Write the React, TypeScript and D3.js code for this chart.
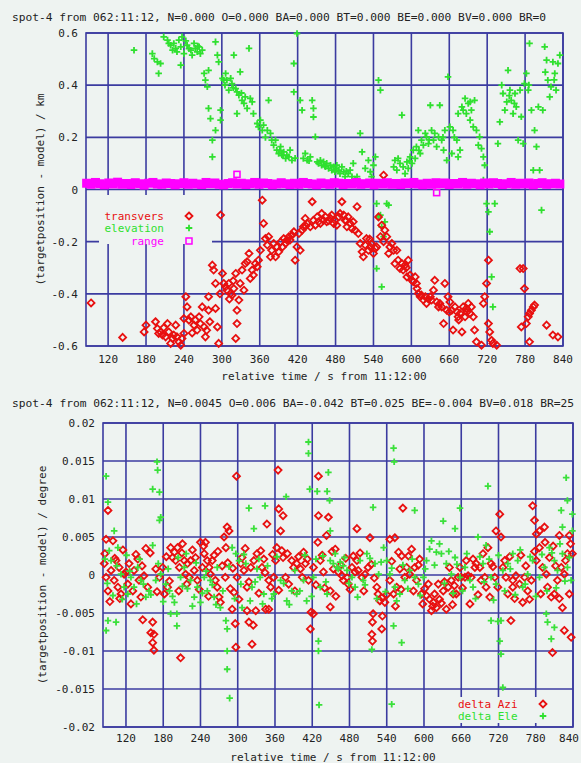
import React from "react";
import * as d3 from "d3";

// ---------- DATA ----------
const topTitle = "spot-4 from 062:11:12, N=0.000 O=0.000 BA=0.000 BT=0.000 BE=0.000 BV=0.000 BR=0";
const bottomTitle = "spot-4 from 062:11:12, N=0.0045 O=0.006 BA=-0.042 BT=0.025 BE=-0.004 BV=0.018 BR=25";
const xTicks = [120, 180, 240, 300, 360, 420, 480, 540, 600, 660, 720, 780, 840];
const topYTicks = [0.6, 0.4, 0.2, 0, -0.2, -0.4, -0.6];
const topYLabels = ["0.6", "0.4", "0.2", "0", "-0.2", "-0.4", "-0.6"];
const botYTicks = [0.02, 0.015, 0.01, 0.005, 0, -0.005, -0.01, -0.015, -0.02];
const botYLabels = ["0.02", "0.015", "0.01", "0.005", "0", "-0.005", "-0.01", "-0.015", "-0.02"];

const transvers: [number, number][] = [
[93,-0.435],[143,-0.567],[180,-0.52],[177,-0.546],[195,-0.507],[198,-0.533],[200,-0.552],[203,-0.546],[206,-0.558],[211,-0.565],[214,-0.514],[216,-0.546],[222,-0.571],[224,-0.558],[229,-0.565],[232,-0.584],[235,-0.597],[237,-0.571],[240,-0.552],[240,-0.495],[243,-0.411],[245,-0.45],[248,-0.501],[251,-0.488],[256,-0.52],[258,-0.501],[261,-0.539],[264,-0.488],[266,-0.514],[269,-0.45],[272,-0.527],[274,-0.565],[279,-0.411],[279,-0.463],[281,-0.507],[285,-0.29],[287,-0.309],[290,-0.36],[290,-0.456],[293,-0.527],[295,-0.59],[298,-0.098],[301,-0.322],[303,-0.36],[306,-0.373],[308,-0.386],[311,-0.36],[314,-0.399],[316,-0.405],[319,-0.38],[322,-0.322],[324,-0.463],[324,-0.514],[322,-0.571],[327,-0.424],[329,-0.36],[332,-0.309],[335,-0.386],[337,-0.284],[340,-0.277],[343,-0.245],[345,-0.341],[348,-0.309],[350,-0.328],[353,-0.284],[356,-0.296],[358,-0.271],[361,-0.233],[364,-0.041],[366,-0.13],[369,-0.188],[372,-0.213],[374,-0.181],[377,-0.258],[379,-0.233],[382,-0.207],[385,-0.258],[387,-0.22],[390,-0.239],[393,-0.201],[398,-0.188],[401,-0.207],[403,-0.194],[406,-0.181],[408,-0.194],[411,-0.175],[414,-0.162],[416,-0.271],[419,-0.22],[422,-0.169],[424,-0.233],[427,-0.156],[429,-0.143],[432,-0.111],[435,-0.13],[440,-0.143],[443,-0.047],[445,-0.118],[448,-0.137],[451,-0.105],[453,-0.124],[456,-0.13],[458,-0.092],[461,-0.118],[464,-0.105],[466,-0.124],[472,-0.111],[474,-0.098],[477,-0.13],[479,-0.118],[482,-0.137],[485,-0.105],[487,-0.092],[490,-0.047],[493,-0.098],[495,-0.118],[498,-0.143],[500,-0.105],[503,-0.13],[506,-0.15],[508,-0.124],[511,-0.156],[514,-0.066],[516,-0.169],[519,-0.207],[522,-0.239],[524,-0.258],[527,-0.213],[529,-0.188],[532,-0.233],[535,-0.22],[537,-0.207],[540,-0.245],[543,-0.226],[545,-0.22],[548,-0.105],[551,-0.181],[553,-0.137],[556,0.055],[558,-0.156],[561,-0.181],[564,-0.245],[566,-0.22],[569,-0.207],[572,-0.233],[574,-0.284],[577,-0.233],[579,-0.271],[582,-0.303],[585,-0.284],[587,-0.309],[590,-0.29],[593,-0.335],[595,-0.271],[598,-0.328],[601,-0.348],[603,-0.354],[606,-0.335],[608,-0.36],[611,-0.399],[614,-0.411],[616,-0.405],[619,-0.424],[622,-0.411],[624,-0.437],[630,-0.411],[632,-0.424],[635,-0.386],[637,-0.348],[640,-0.431],[643,-0.45],[645,-0.437],[648,-0.45],[651,-0.514],[653,-0.36],[656,-0.463],[658,-0.411],[661,-0.431],[664,-0.463],[666,-0.539],[669,-0.45],[672,-0.469],[674,-0.488],[677,-0.475],[680,-0.546],[682,-0.45],[685,-0.488],[687,-0.456],[690,-0.437],[693,-0.475],[695,-0.45],[698,-0.488],[700,-0.539],[703,-0.584],[711,-0.597],[714,-0.437],[716,-0.411],[719,-0.36],[722,-0.271],[722,-0.514],[724,-0.546],[727,-0.578],[729,-0.59],[735,-0.597],[772,-0.303],[777,-0.303],[779,-0.38],[774,-0.527],[782,-0.514],[785,-0.488],[787,-0.475],[790,-0.463],[793,-0.45],[795,-0.443],[787,-0.584],[814,-0.52],[824,-0.558],[832,-0.565],
[208,-0.53],[219,-0.59],[227,-0.52],[253,-0.55],[276,-0.54],[297,-0.4],[312,-0.42],[318,-0.35],[396,-0.22],[433,-0.14],[469,-0.12],[497,-0.12],[534,-0.19],[556,-0.2],[592,-0.3],[609,-0.38],[627,-0.42],[660,-0.47],[675,-0.5],[688,-0.47]
];

const elevation: [number, number][] = [
[161,0.534],[190,0.521],[193,0.502],[198,0.489],[203,0.483],[200,0.445],[208,0.585],[214,0.573],[219,0.553],[222,0.534],[224,0.56],[227,0.541],[229,0.528],[232,0.573],[235,0.547],[235,0.477],[237,0.585],[240,0.521],[245,0.553],[251,0.534],[253,0.515],[256,0.56],[258,0.541],[261,0.528],[264,0.547],[266,0.521],[269,0.534],[272,0.445],[274,0.419],[277,0.394],[279,0.457],[279,0.311],[282,0.272],[285,0.189],[285,0.125],[290,0.566],[293,0.515],[295,0.489],[290,0.227],[298,0.304],[298,0.266],[301,0.426],[303,0.419],[306,0.445],[308,0.419],[311,0.381],[314,0.426],[316,0.406],[319,0.515],[322,0.387],[324,0.374],[324,0.291],[327,0.362],[329,0.451],[332,0.342],[335,0.33],[337,0.355],[340,0.311],[343,0.541],[345,0.349],[348,0.336],[350,0.291],[356,0.253],[358,0.24],[361,0.266],[364,0.227],[366,0.247],[372,0.227],[374,0.342],[377,0.215],[379,0.189],[382,0.17],[385,0.189],[387,0.151],[390,0.138],[393,0.164],[395,0.132],[398,0.144],[401,0.119],[403,0.132],[406,0.125],[408,0.151],[411,0.112],[414,0.483],[414,0.374],[419,0.598],[424,0.342],[427,0.304],[429,0.119],[432,0.138],[435,0.112],[440,0.125],[443,0.342],[445,0.278],[445,0.311],[448,0.202],[451,0.106],[453,0.1],[456,0.112],[458,0.093],[461,0.106],[464,0.087],[466,0.1],[469,0.081],[472,0.093],[474,0.074],[477,0.087],[479,0.068],[482,0.093],[485,0.074],[487,0.061],[490,0.087],[493,0.068],[495,0.049],[500,0.061],[503,0.074],[506,0.049],[508,0.1],[511,0.036],[514,0.049],[519,0.215],[522,0.144],[527,0.081],[532,0.112],[535,0.068],[537,0.049],[540,0.093],[543,0.125],[548,0.419],[551,0.381],[545,-0.054],[548,-0.105],[551,-0.098],[553,-0.143],[556,-0.181],[558,-0.124],[561,-0.054],[564,-0.06],[545,-0.303],[553,-0.373],[572,0.087],[574,0.112],[577,0.074],[579,0.119],[582,0.1],[585,0.285],[587,0.087],[590,0.061],[593,0.106],[595,0.081],[598,0.125],[601,0.1],[603,0.151],[606,0.119],[608,0.164],[611,0.227],[614,0.138],[616,0.189],[619,0.17],[622,0.215],[624,0.202],[627,0.176],[630,0.323],[632,0.227],[635,0.189],[637,0.215],[640,0.164],[643,0.202],[645,0.323],[648,0.189],[651,0.151],[653,0.227],[656,0.112],[658,0.432],[661,0.24],[664,0.138],[666,0.227],[672,0.189],[674,0.125],[677,0.151],[680,0.317],[682,0.304],[685,0.349],[687,0.291],[690,0.33],[693,0.266],[695,0.304],[698,0.24],[700,0.342],[703,0.227],[706,0.17],[708,0.202],[711,0.157],[714,0.125],[716,0.093],[719,-0.054],[722,-0.086],[724,-0.162],[727,-0.335],[729,-0.45],[732,-0.054],[737,0.176],[740,0.259],[743,0.4],[745,0.368],[748,0.304],[751,0.336],[753,0.457],[756,0.381],[758,0.342],[761,0.291],[764,0.368],[766,0.317],[769,0.189],[772,0.381],[774,0.279],[777,0.176],[779,0.406],[782,0.445],[785,0.381],[787,0.56],[790,0.304],[793,0.074],[795,0.227],[798,0.164],[801,0.317],[803,0.074],[806,-0.079],[808,0.304],[811,0.547],[814,0.496],[816,0.419],[819,0.355],[821,0.394],[824,0.489],[827,0.445],[829,0.381],[832,0.483],[835,0.515],[714,0.036],[674,0.291],[693,0.336],
[216,0.56],[243,0.57],[248,0.54],[262,0.55],[305,0.4],[318,0.39],[331,0.37],[369,0.2],[392,0.15],[397,0.13],[416,0.12],[438,0.11],[463,0.09],[481,0.08],[497,0.07],[597,0.11],[612,0.15],[628,0.19],[650,0.2],[668,0.2],[755,0.36],[763,0.33],[786,0.4],[812,0.45],[826,0.42]
];

const rangeT = [86,93,100,107,114,121,128,135,142,149,156,163,170,177,184,191,198,205,212,219,226,233,240,247,254,261,268,275,282,289,296,303,310,317,324,331,338,345,352,359,366,373,380,387,394,401,408,415,422,429,436,443,450,457,464,471,478,485,492,499,506,513,520,527,534,541,548,555,562,569,576,583,590,597,604,611,618,625,632,639,646,653,660,667,674,681,688,695,702,709,716,723,730,737,744,751,758,765,772,779,786,793,800,807,814,821,828,835];
const rangeV = [0.024,0.02,0.027,0.022,0.018,0.025,0.021,0.028,0.02,0.023,
0.019,0.026,0.022,0.017,0.024,0.027,0.021,0.02,0.025,0.023,
0.018,0.022,0.026,0.02,0.024,0.021,0.019,0.027,0.022,0.025,
0.02,0.018,0.023,0.026,0.021,0.024,0.019,0.022,0.027,0.02,
0.025,0.023,0.018,0.021,0.026,0.022,0.019,0.024,0.02,0.027,
0.023,0.021,0.018,0.025,0.022,0.02,0.026,0.024,0.019,0.023,
0.021,0.027,0.02,0.022,0.025,0.018,0.024,0.021,0.026,0.02,
0.023,0.019,0.025,0.022,0.027,0.021,0.018,0.024,0.02,0.026,
0.022,0.025,0.019,0.023,0.021,0.027,0.02,0.024,0.022,0.018,
0.025,0.021,0.026,0.023,0.019,0.022,0.027,0.02,0.024,0.021,
0.025,0.018,0.023,0.026,0.02,0.022,0.024,0.021];
const rangeOutT = [324, 640];
const rangeOutV = [0.058, -0.012];

const deltaAzi: [number, number][] = [
[91,0.0085],[88,0.0047],[99,0.0045],[159,0.0029],[147,-0.0059],[163,-0.0062],[160,-0.0076],[165,-0.0078],[163,-0.0089],[165,-0.0099],[208,-0.0109],[298,0.013],[283,0.0063],[286,0.0058],[281,0.0036],[296,-0.0064],[297,-0.0095],[291,-0.0045],[315,-0.0047],[318,-0.0062],[325,-0.0066],[323,-0.0091],[329,-0.0047],[345,-0.0045],[350,-0.0045],[347,0.0067],[365,0.0138],[366,0.0087],[373,0.0078],[369,0.0058],[371,0.0032],[373,0.0023],[430,0.013],[430,0.0078],[446,0.0076],[443,0.0052],[429,0.0043],[457,0.0034],[418,-0.0049],[422,-0.0051],[417,-0.0071],[449,-0.0042],[492,0.0061],[513,0.0049],[518,-0.0051],[517,-0.0062],[516,-0.0078],[517,-0.0087],[533,-0.0054],[532,-0.0071],[529,-0.0034],[532,-0.003],[545,0.0047],[553,0.0049],[566,0.0088],[559,0.003],[564,0.0025],[580,0.0034],[593,0.0021],[612,-0.0047],[615,-0.0036],[620,-0.0043],[636,-0.0045],[641,0.001],[647,-0.0025],[652,-0.0025],[660,-0.0003],[668,0.0019],[674,-0.0038],[690,0.001],[703,0.0036],[716,0.0058],[722,0.008],[724,0.005],[730,0.0019],[740,-0.006],[743,-0.0016],[759,-0.0036],[775,0.0091],[778,0.0072],[781,0.0054],[786,0.0058],[794,0.0063],[802,0.0023],[805,-0.0029],[807,-0.0102],[818,0.0052],[823,-0.0043],[826,-0.0073],[834,0.0052],[837,-0.0082],[839,0.0028],
[85,0.0015],[88,-0.0003],[91,-0.0021],[96,0.0006],[101,-0.0007],[104,0.0019],[107,-0.0016],[109,0.001],[112,-0.0025],[117,0.0001],[123,-0.0012],[125,0.0015],[131,-0.0021],[133,0.0006],[139,0.0021],[141,-0.0007],[144,-0.0029],[149,-0.0001],[155,-0.0016],[168,0.0008],[174,-0.0003],[179,0.001],[182,-0.0025],[187,-0.0016],[192,0.0036],[195,0.0023],[198,0.003],[200,0.0019],[203,0.0036],[206,0.001],[211,0.0041],[214,0.0019],[216,0.0001],[219,0.0015],[222,-0.0003],[224,0.0019],[230,0.0006],[232,0.0023],[235,-0.0007],[240,0.0043],[243,0.001],[246,0.0028],[248,0.0043],[251,0.0019],[254,0.001],[256,0.0001],[259,0.0019],[264,-0.0007],[267,-0.0016],[270,-0.0029],[272,-0.0036],[275,0.0012],[278,0.005],[280,-0.0003],[288,-0.0018],[294,-0.0023],[299,-0.0003],[305,0.0015],[307,0.0023],[310,0.0006],[315,-0.0016],[321,0.001],[326,0.0019],[331,0.0028],[337,0.0032],[339,0.001],[342,0.0021],[350,-0.0007],[353,-0.0016],[358,-0.0003],[361,0.0019],[363,0.0036],[377,-0.0003],[382,-0.0012],[387,0.0019],[390,0.001],[395,0.0015],[401,0.0008],[404,-0.0003],[409,0.0015],[414,-0.0007],[422,0.001],[433,0.0019],[438,0.0004],[449,-0.0021],[454,0.0008],[462,0.0004],[468,-0.0001],[470,-0.0007],[476,-0.0003],[478,-0.0012],[484,0.001],[486,0.0025],[492,0.0019],[494,0.0006],[500,-0.0003],[505,0.0001],[510,0.001],[524,-0.0016],[526,-0.0025],[529,-0.0034],[537,-0.0036],[545,-0.0007],[551,-0.0025],[556,-0.0016],[561,0.0008],[569,-0.0003],[572,0.001],[577,0.0001],[585,0.001],[588,-0.0007],[596,-0.0025],[601,-0.0018],[607,-0.0012],[609,-0.0032],[617,-0.0025],[623,-0.0012],[625,-0.0032],[631,-0.0021],[639,-0.0016],[644,-0.0007],[649,-0.0014],[655,-0.0003],[658,0.001],[666,-0.0003],[671,-0.0001],[676,-0.0003],[682,0.001],[684,0.0015],[692,-0.0007],[698,-0.0003],[700,-0.0016],[708,0.0015],[714,-0.0003],[719,-0.0016],[727,0.001],[732,-0.0003],[735,-0.0025],[743,-0.0007],[748,-0.0001],[754,-0.0012],[762,-0.0003],[767,-0.0021],[773,-0.0007],[781,0.0019],[786,0.0036],[791,0.001],[797,0.0001],[799,-0.0016],[810,-0.0025],[815,-0.0007],[821,0.001],[826,0.0001],[831,0.0028],[834,-0.0025],
[86,0.0028],[94,-0.0035],[102,0.0022],[110,-0.0031],[115,0.0033],[120,0.0004],[128,-0.0038],[136,0.0027],[146,0.0012],[152,0.0035],[170,-0.0022],[185,0.0024],[190,-0.0008],[205,-0.0021],[210,0.0029],[218,-0.0012],[227,0.0033],[238,-0.0019],[245,0.0038],[253,-0.0028],[262,0.0026],[268,0.0031],[284,0.0016],[292,0.0009],[302,-0.0032],[312,0.0035],[318,-0.0009],[334,-0.0024],[344,0.0003],[356,0.0027],[366,-0.002],[380,0.0028],[392,-0.0021],[398,0.0024],[406,0.003],[412,0.0021],[426,-0.0013],[436,0.0026],[440,-0.0017],[452,0.0031],[458,-0.0028],[466,0.0013],[474,0.0022],[481,-0.0019],[489,0.0004],[497,0.0029],[503,-0.0021],[515,0.0014],[520,-0.0004],[540,-0.0026],[548,0.0018],[554,-0.0041],[563,-0.0019],[575,0.0025],[583,-0.0021],[591,0.0013],[598,-0.0038],[604,-0.0027],[614,-0.0041],[628,-0.0037],[633,-0.0009],[646,-0.0039],[662,-0.0017],[679,0.0021],[687,-0.0026],[695,0.0028],[706,-0.0029],[711,0.0011],[738,0.0024],[746,-0.0031],[756,0.0026],[764,0.0012],[770,-0.0032],[778,0.0031],[788,-0.0025],[795,0.0043],[808,0.0038],[812,0.0012],[818,-0.0031],[828,0.0019],[836,0.0041]
];

const deltaEle: [number, number][] = [
[88,0.013],[91,0.0096],[170,0.0149],[171,0.0138],[163,0.0113],[174,0.0109],[176,0.0076],[174,0.0072],[101,0.0058],[91,-0.006],[104,-0.0062],[88,-0.0073],[192,-0.0051],[202,-0.0051],[202,-0.0067],[283,-0.0124],[287,-0.0162],[283,-0.01],[281,-0.006],[283,-0.0071],[318,0.0088],[344,0.0091],[326,0.0061],[378,0.0103],[414,0.0175],[414,0.016],[416,0.0113],[428,0.011],[444,0.011],[446,0.0135],[448,0.0098],[449,0.0058],[430,-0.0087],[430,-0.01],[431,-0.0171],[518,0.0089],[516,-0.0098],[551,0.0167],[552,0.0149],[551,-0.0067],[564,-0.0089],[585,0.0085],[548,-0.017],[631,0.0071],[650,0.0061],[658,0.0088],[703,0.0117],[708,-0.006],[719,-0.0061],[724,-0.006],[722,-0.0087],[724,-0.0104],[727,-0.0148],[829,0.0128],[831,0.0098],[821,0.0085],[805,-0.0084],[799,-0.0062],[797,-0.0051],[810,-0.0069],[823,0.0063],
[93,0.0032],[96,0.0019],[107,0.0036],[112,0.0001],[117,-0.0016],[123,-0.0025],[128,-0.0003],[133,-0.0016],[139,0.001],[144,-0.0007],[152,-0.0029],[157,-0.0021],[163,0.0039],[168,-0.0007],[176,0.0001],[184,-0.0012],[190,-0.0021],[198,-0.0036],[208,-0.0003],[214,0.001],[219,-0.0018],[224,-0.0007],[230,-0.0029],[235,-0.0016],[240,-0.0036],[246,-0.0003],[251,-0.0021],[256,-0.0007],[262,-0.0029],[267,0.001],[272,-0.0043],[291,0.0036],[297,0.0028],[302,0.0019],[307,-0.0043],[313,0.0015],[323,-0.0016],[331,0.0008],[336,-0.0003],[342,-0.0025],[358,-0.0025],[369,-0.0007],[379,-0.0034],[387,-0.0021],[395,-0.0025],[406,-0.0007],[411,-0.0034],[422,-0.0003],[433,-0.0016],[444,-0.0025],[449,0.0019],[454,0.0015],[460,0.001],[465,0.0017],[470,0.0012],[476,0.0006],[484,-0.0003],[489,-0.0016],[497,0.0019],[502,-0.0007],[508,0.0028],[521,0.0015],[527,0.0001],[535,0.0036],[540,0.0019],[545,0.0001],[553,-0.0016],[561,-0.0025],[569,-0.0007],[577,0.0006],[585,-0.0003],[591,-0.0012],[599,-0.0003],[604,0.0019],[612,0.0045],[620,0.003],[628,0.0028],[636,0.0015],[644,0.0001],[650,0.0023],[658,-0.0003],[666,0.001],[674,-0.0007],[679,-0.0016],[687,0.005],[695,0.0015],[700,0.0039],[708,-0.0003],[716,-0.0012],[727,0.0006],[735,0.0015],[743,0.0028],[751,0.0019],[759,-0.0016],[767,0.0001],[775,0.0019],[786,-0.0003],[794,0.001],[802,0.0036],[810,0.0019],[815,0.0006],[823,0.0028],[831,0.001],[837,-0.0007],[839,0.0058],[839,0.008],
[86,0.0021],[90,-0.0011],[99,-0.0027],[105,0.0012],[114,-0.0032],[121,0.0026],[126,0.0005],[137,-0.0038],[142,0.0021],[148,-0.0012],[160,-0.0026],[172,0.0015],[180,-0.0035],[188,0.0008],[195,-0.0028],[204,0.0023],[211,-0.0015],[217,0.0028],[227,-0.0041],[233,0.0016],[243,-0.0024],[249,0.0005],[259,-0.0013],[265,-0.0039],[276,-0.0021],[286,0.0011],[295,-0.0031],[305,-0.0012],[310,0.0027],[320,-0.0034],[328,-0.0009],[334,0.0021],[340,-0.0038],[348,0.0012],[355,-0.0031],[363,0.0024],[374,-0.0011],[383,-0.0039],[392,0.0006],[400,-0.0021],[408,0.0026],[419,-0.0028],[426,0.0021],[437,0.0025],[442,-0.0009],[457,0.0028],[462,0.0008],[472,0.0023],[479,-0.0011],[493,-0.0029],[505,-0.0013],[513,0.0022],[524,-0.0031],[531,0.0017],[538,-0.0022],[548,0.0009],[556,-0.0034],[566,0.0013],[574,-0.0018],[581,0.0021],[594,-0.0027],[602,0.0008],[609,0.0034],[617,0.0013],[625,0.0041],[633,-0.0011],[640,0.0031],[647,-0.0024],[653,0.0014],[662,-0.0021],[669,0.0028],[683,-0.0031],[690,0.0024],[697,-0.0009],[705,0.0021],[712,-0.0033],[720,0.0026],[730,-0.0021],[739,0.0008],[747,-0.0026],[755,0.0033],[763,-0.0012],[771,0.0024],[780,-0.0028],[790,0.0027],[798,-0.0021],[806,0.0029],[813,-0.0017],[819,0.0041],[827,-0.0008],[834,0.0023]
];

// ---------- STYLE ----------
const BG = "#eef3f1";
const GRID = "#3b3ba0";
const RED = "#e81010";
const GREEN = "#2fe02f";
const MAGENTA = "#ff00ff";
const FONT = "'DejaVu Sans Mono', monospace";

const diamond = (r: number) => `M0,${-r}L${r},0L0,${r}L${-r},0Z`;
const plus = (r: number) => `M${-r},0H${r}M0,${-r}V${r}`;

function Diamonds({ data, x, y, r = 3.5 }: any) {
  return (
    <g fill="none" stroke={RED} strokeWidth={1.8}>
      {data.map((d: [number, number], i: number) => (
        <path key={i} d={diamond(r)} transform={`translate(${x(d[0])},${y(d[1])})`} />
      ))}
    </g>
  );
}
function Pluses({ data, x, y, r = 3.3, color = GREEN }: any) {
  return (
    <g fill="none" stroke={color} strokeWidth={1.8}>
      {data.map((d: [number, number], i: number) => (
        <path key={i} d={plus(r)} transform={`translate(${x(d[0])},${y(d[1])})`} />
      ))}
    </g>
  );
}

function Grid({ x, y, yTicks }: any) {
  const [x0, x1] = x.range();
  const [y0, y1] = y.range();
  return (
    <g stroke={GRID} strokeWidth={1.6}>
      {xTicks.map((t) => (
        <line key={"v" + t} x1={x(t)} x2={x(t)} y1={y0} y2={y1} />
      ))}
      {yTicks.map((t: number) => (
        <line key={"h" + t} x1={x0} x2={x1} y1={y(t)} y2={y(t)} />
      ))}
      <rect x={x0} y={y1} width={x1 - x0} height={y0 - y1} fill="none" />
    </g>
  );
}

export default function App() {
  const xT = d3.scaleLinear().domain([85, 840]).range([86, 563]);
  const yT = d3.scaleLinear().domain([-0.6, 0.6]).range([346, 33]);
  const xB = d3.scaleLinear().domain([83, 840]).range([103, 573]);
  const yB = d3.scaleLinear().domain([-0.02, 0.02]).range([727, 423]);

  const rangeData: [number, number][] = rangeT.map((t, i) => [t, rangeV[i]]);
  const rangeOut: [number, number][] = rangeOutT.map((t, i) => [t, rangeOutV[i]]);

  return (
    <svg width={581} height={763} style={{ position: "absolute", left: 0, top: 0 }} fontFamily={FONT}>
      <rect x={0} y={0} width={581} height={763} fill={BG} />

      {/* ---------- TOP PANEL ---------- */}
      <text x={12} y={21} fontSize={11} fill="#222" textLength={534} lengthAdjust="spacingAndGlyphs">{topTitle}</text>
      <Grid x={xT} y={yT} yTicks={topYTicks} />
      <Pluses data={elevation} x={xT} y={yT} />
      <Diamonds data={transvers} x={xT} y={yT} />
      <g fill={MAGENTA} stroke={MAGENTA} strokeWidth={2}>
        {rangeData.map((d, i) => (
          <rect key={i} x={xT(d[0]) - 3.5} y={yT(d[1]) - 3.5} width={7} height={7} />
        ))}
      </g>
      <g fill="none" stroke={MAGENTA} strokeWidth={1.6}>
        {rangeOut.map((d, i) => (
          <rect key={i} x={xT(d[0]) - 3} y={yT(d[1]) - 3} width={6} height={6} />
        ))}
      </g>
      {/* legend */}
      <rect x={99} y={195} width={113} height={49} fill={BG} />
      <g fontSize={11} textAnchor="end">
        <text x={164} y={220} fill={RED}>transvers</text>
        <text x={164} y={232} fill={GREEN}>elevation</text>
        <text x={164} y={245} fill={MAGENTA}>range</text>
      </g>
      <path d={diamond(3.5)} transform="translate(189,216)" fill="none" stroke={RED} strokeWidth={1.8} />
      <path d={plus(3.3)} transform="translate(189,228)" fill="none" stroke={GREEN} strokeWidth={1.8} />
      <rect x={186} y={238} width={6} height={6} fill="none" stroke={MAGENTA} strokeWidth={1.5} />
      <g fontSize={11} fill="#222" textAnchor="end">
        {topYTicks.map((t, i) => (
          <text key={t} x={78} y={yT(t) + 4}>{topYLabels[i]}</text>
        ))}
      </g>
      <g fontSize={11} fill="#222" textAnchor="middle">
        {xTicks.map((t) => (
          <text key={t} x={Math.min(xT(t), 566)} y={363}>{t}</text>
        ))}
      </g>
      <text x={324} y={380} fontSize={11} fill="#222" textAnchor="middle">relative time / s from 11:12:00</text>
      <text transform={`translate(44,${(yT(0.6) + yT(-0.6)) / 2}) rotate(-90)`} fontSize={11} fill="#222" textAnchor="middle">(targetposition - model) / km</text>

      {/* ---------- BOTTOM PANEL ---------- */}
      <text x={12} y={407} fontSize={11} fill="#222" textLength={562} lengthAdjust="spacingAndGlyphs">{bottomTitle}</text>
      <Grid x={xB} y={yB} yTicks={botYTicks} />
      <Diamonds data={deltaAzi} x={xB} y={yB} />
      <Pluses data={deltaEle} x={xB} y={yB} color="#3ae03a" />
      <rect x={451} y={697} width={104} height={26} fill={BG} />
      <g fontSize={11} textAnchor="start">
        <text x={458} y={708} fill={RED}>delta Azi</text>
        <text x={458} y={720} fill={GREEN}>delta Ele</text>
      </g>
      <path d={diamond(3.5)} transform="translate(543,704)" fill="none" stroke={RED} strokeWidth={1.8} />
      <path d={plus(3.3)} transform="translate(543,716)" fill="none" stroke={GREEN} strokeWidth={1.8} />
      <g fontSize={11} fill="#222" textAnchor="end">
        {botYTicks.map((t, i) => (
          <text key={t} x={95} y={yB(t) + 4}>{botYLabels[i]}</text>
        ))}
      </g>
      <g fontSize={11} fill="#222" textAnchor="middle">
        {xTicks.map((t) => (
          <text key={t} x={Math.min(xB(t), 569)} y={742}>{t}</text>
        ))}
      </g>
      <text x={333} y={761} fontSize={11} fill="#222" textAnchor="middle">relative time / s from 11:12:00</text>
      <text transform={`translate(46,${(yB(0.02) + yB(-0.02)) / 2}) rotate(-90)`} fontSize={11} fill="#222" textAnchor="middle">(targetposition - model) / degree</text>
    </svg>
  );
}
